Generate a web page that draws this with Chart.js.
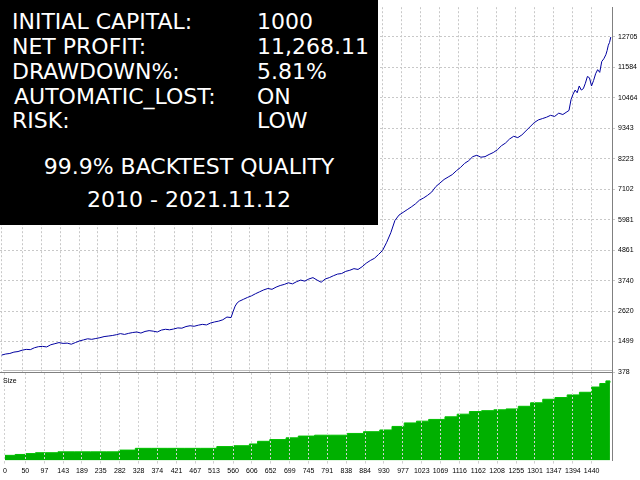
<!DOCTYPE html>
<html><head><meta charset="utf-8">
<script src="https://cdn.jsdelivr.net/npm/chart.js@4.4.0/dist/chart.umd.min.js"></script>
<style>
body{margin:0;background:#fff;width:640px;height:480px;overflow:hidden;position:relative;font-family:"DejaVu Sans",sans-serif}
#c1{position:absolute;left:0;top:0}
#c2{position:absolute;left:0;top:370px}
#box{position:absolute;left:0;top:0;width:378px;height:225px;background:#000;color:#fff}
.r{position:absolute;font-size:22px;line-height:24px;white-space:nowrap}
.c{position:absolute;left:0;width:378px;text-align:center;font-size:22px}
#size{position:absolute;left:3px;top:377px;font:7px "Liberation Sans",sans-serif;color:#000}
</style></head><body>
<canvas id="c1" width="640" height="382"></canvas>
<canvas id="c2" width="640" height="110"></canvas>
<div id="box">
<div class="r" style="left:12px;top:10px">INITIAL CAPITAL:</div><div class="r" style="left:257px;top:10px">1000</div>
<div class="r" style="left:12px;top:35px">NET PROFIT:</div><div class="r" style="left:257px;top:35px">11,268.11</div>
<div class="r" style="left:12px;top:60px">DRAWDOWN%:</div><div class="r" style="left:257px;top:60px">5.81%</div>
<div class="r" style="left:14px;top:85px">AUTOMATIC_LOST:</div><div class="r" style="left:257px;top:85px">ON</div>
<div class="r" style="left:12px;top:109px">RISK:</div><div class="r" style="left:257px;top:109px">LOW</div>
<div class="c" style="top:154px">99.9% BACKTEST QUALITY</div>
<div class="c" style="top:187px">2010 - 2021.11.12</div>
</div>
<div id="size">Size</div>
<script>
const equityIdx=[0,10,20,30,40,50,60,70,80,90,100,110,120,130,140,150,160,170,180,190,200,210,220,230,240,250,260,270,280,290,300,310,320,330,340,350,360,370,380,390,400,410,420,430,440,450,460,470,480,490,500,510,520,530,540,550,560,565,570,575,580,590,600,610,620,630,640,650,660,670,680,690,700,710,720,730,740,750,760,770,780,790,800,810,820,830,840,850,860,870,880,890,900,910,920,930,940,950,960,970,980,990,1000,1010,1020,1030,1040,1050,1060,1070,1080,1090,1100,1110,1120,1130,1140,1150,1160,1170,1180,1190,1200,1210,1220,1230,1240,1250,1260,1270,1280,1290,1300,1310,1320,1330,1340,1350,1360,1370,1380,1385,1390,1395,1400,1405,1410,1415,1420,1425,1430,1435,1440,1445,1450,1455,1460,1465,1470,1475,1478,1481,1484,1487];
const equityVal=[1000,1040,1060,1110,1130,1180,1210,1200,1270,1310,1320,1300,1380,1420,1460,1430,1440,1400,1460,1520,1560,1600,1580,1610,1640,1680,1700,1720,1750,1790,1760,1800,1830,1850,1810,1870,1900,1880,1850,1920,1950,1930,1960,2000,1990,2050,2080,2060,2100,2130,2110,2180,2220,2250,2300,2400,2380,2600,2800,2920,2980,3050,3120,3180,3260,3330,3400,3450,3420,3500,3560,3600,3660,3620,3700,3760,3720,3800,3850,3760,3680,3800,3850,3920,3980,4000,4080,4120,4180,4150,4250,4380,4480,4560,4700,4850,5150,5500,5950,6150,6250,6350,6450,6560,6700,6780,6880,7000,7200,7330,7460,7550,7640,7780,7900,8050,8150,8300,8350,8280,8300,8380,8450,8550,8700,8800,8950,9050,9000,9100,9250,9400,9550,9650,9700,9750,9820,9780,9900,9850,9950,10000,10400,10600,10750,10650,10900,10750,10800,11000,11250,11200,10900,11100,11350,11500,11400,11800,11900,12050,12200,12400,12500,12700,12300,12500,12000,11900];
const yTicks=[378,1499,2620,3740,4861,5981,7102,8223,9343,10464,11584,12705];
const xTicks=[0,50,97,143,189,235,282,328,374,421,467,513,560,606,652,699,745,791,838,884,930,977,1023,1069,1116,1162,1208,1255,1301,1347,1394,1440];
const sizeIdx=[0,25,50,75,100,130,170,210,250,280,320,360,400,440,480,520,560,600,620,650,690,720,760,800,840,880,920,950,980,1010,1040,1080,1110,1140,1170,1200,1230,1260,1290,1320,1350,1380,1410,1440,1460,1475,1485];
const sizeVal=[6,7,8,9,9,10,10,10,10,12,14,14,14,14,14,16,17,19,22,24,26,28,29,29,31,33,35,39,43,45,47,50,53,56,57,58,59,62,66,70,72,75,78,84,88,91,89];
const X_MAX=1490;
const dash=[2,2];
function pts(a,b){return a.map((x,i)=>({x:x,y:b[i]}));}
const ff='"Liberation Sans",sans-serif';
new Chart(document.getElementById('c1'),{type:'line',
data:{datasets:[{data:pts(equityIdx,equityVal),borderColor:'#0000a0',borderWidth:1,pointRadius:0,tension:0}]},
options:{animation:false,responsive:false,events:[],plugins:{legend:{display:false},tooltip:{enabled:false}},
layout:{padding:{top:2,bottom:10,left:0,right:0}},
scales:{
x:{type:'linear',min:-4,max:X_MAX,afterBuildTicks:s=>{s.ticks=xTicks.map(v=>({value:v}))},ticks:{display:false},grid:{color:'#c8c8c8',tickLength:0},border:{display:true,color:'#808080',dash:dash},afterFit:s=>{s.height=0}},
y:{position:'right',min:378,max:13798,afterBuildTicks:s=>{s.ticks=yTicks.map(v=>({value:v}))},ticks:{font:{family:ff,size:7},color:'#000',padding:3,autoSkip:false,callback:v=>String(v)},grid:{color:'#c8c8c8',tickLength:3},border:{color:'#808080',dash:dash},afterFit:s=>{s.width=28}}
}}});
new Chart(document.getElementById('c2'),{type:'line',
data:{datasets:[{data:pts(sizeIdx,sizeVal),borderColor:'#00c000',backgroundColor:'#00b000',borderWidth:1,fill:'origin',stepped:true,pointRadius:0}]},
options:{animation:false,responsive:false,events:[],plugins:{legend:{display:false},tooltip:{enabled:false}},
layout:{padding:{top:3,bottom:2,left:0,right:0}},
scales:{
x:{type:'linear',min:-4,max:X_MAX,afterBuildTicks:s=>{s.ticks=xTicks.map(v=>({value:v}))},ticks:{font:{family:ff,size:7},color:'#000',maxRotation:0,autoSkip:false,padding:3,callback:v=>String(v)},grid:{color:'#d0d0d0',tickLength:3,z:1},border:{color:'#808080',dash:dash}},
y:{position:'right',min:0,max:100,ticks:{display:false},grid:{display:false},border:{color:'#808080'},afterFit:s=>{s.width=28}}
}}});
</script>
</body></html>
